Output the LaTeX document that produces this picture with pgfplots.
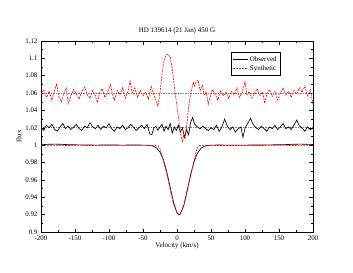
\documentclass[border=0pt]{standalone}
\usepackage{pgfplots}
\pgfplotsset{compat=1.18}
\usepackage{fontspec}
\setmainfont{Liberation Serif}
\begin{document}
\begin{tikzpicture}
\begin{axis}[
  scale only axis, width=272bp, height=191bp,
  xmin=-200, xmax=200, ymin=0.9, ymax=1.12,
  xtick={-200,-150,...,200},
  minor x tick num=1,
  ytick={0.9,0.92,0.94,0.96,0.98,1,1.02,1.04,1.06,1.08,1.1,1.12},
  minor y tick num=1,
  tick align=inside,
  major tick length=3.5bp, minor tick length=2bp,
  tick style={black, line width=0.5pt},
  axis line style={line width=0.6pt},
  /pgf/number format/assume math mode=true,
  yticklabel style={/pgf/number format/fixed, /pgf/number format/precision=2},
  ticklabel style={font=\fontsize{7}{8}\selectfont},
  label style={font=\fontsize{7}{8}\selectfont},
  xlabel={Velocity (km/s)}, ylabel={Flux},
  xlabel style={yshift=4pt}, ylabel style={yshift=-3pt},
  title={HD 139614 (21 Jan) 450 G},
  title style={font=\fontsize{7}{8}\selectfont, yshift=-2pt},
  legend style={at={(0.88,0.94)}, anchor=north east, draw=black, line width=0.5pt,
    font=\fontsize{7}{8}\selectfont, inner sep=1.5pt, row sep=-1pt},
  legend cell align=left,
  legend image code/.code={\draw[#1] (0cm,0cm) -- (0.5cm,0cm);},
]
\addplot[gray, dash pattern=on 1.5pt off 1pt, line width=0.8pt, forget plot] coordinates {(-200,1.06) (200,1.06)};
\addplot[gray, dash pattern=on 1.5pt off 1pt, line width=0.8pt, forget plot] coordinates {(-200,1.02) (200,1.02)};
% observed Stokes I
\addplot[black, line width=0.65pt] coordinates {
(-200,1.0005) (-190,1.001) (-180,1.0012) (-170,1.001) (-160,1.0006) (-140,1.0003) (-120,1.0001) (-100,1.0002) (-80,1.0001) (-60,1.0002) (-50,1.0001)
(-45,1.0000) (-40,0.9997) (-35,0.9989) (-30,0.9968) (-25,0.9921) (-20,0.9833) (-15,0.9693) (-10,0.9515) (-5,0.9338) (0,0.9221) (3,0.9200) (5,0.9209)
(10,0.9308) (15,0.9478) (20,0.9660) (25,0.9809) (30,0.9907) (35,0.9962) (40,0.9986) (45,0.9996) (50,1.0000) (60,1.0002) (80,1.0000) (100,1.0001)
(120,1.0002) (140,1.0004) (160,1.0007) (170,1.0010) (180,1.0012) (190,1.0011) (200,1.0008)};
% synthetic Stokes I
\addplot[red, dash pattern=on 2pt off 1pt, line width=0.6pt] coordinates {
(-200,0.9995) (-180,0.9995) (-160,0.9996) (-140,0.9995) (-120,0.9997) (-100,0.9997) (-80,0.9998) (-60,0.9997) (-40,0.9998) (-35,0.9998) (-30,0.9995) (-27,0.999)
(-25,0.996) (-20,0.982) (-15,0.967) (-10,0.949) (-5,0.932) (0,0.9215) (3,0.9195) (5,0.9205) (10,0.930) (15,0.9465) (20,0.965) (25,0.981) (28,0.992)
(30,0.997) (33,0.9995) (35,0.9998) (50,0.9997) (80,0.9996) (110,0.9997) (140,0.9995) (170,0.9996) (200,0.9995)};
% observed (shifted) noisy profile at 1.02
\addplot[black, line width=0.65pt, forget plot] coordinates {
(-200,1.021) (-196,1.017) (-192,1.023) (-188,1.020) (-184,1.024) (-180,1.018) (-176,1.016) (-172,1.021) (-168,1.025) (-164,1.019)
(-160,1.022) (-156,1.018) (-152,1.021) (-148,1.024) (-144,1.019) (-140,1.017) (-136,1.022) (-132,1.020) (-128,1.026) (-124,1.021)
(-120,1.019) (-116,1.023) (-112,1.018) (-108,1.022) (-104,1.020) (-100,1.025) (-96,1.019) (-92,1.016) (-88,1.021) (-84,1.019)
(-80,1.023) (-76,1.018) (-72,1.020) (-68,1.024) (-64,1.021) (-60,1.017) (-56,1.020) (-52,1.023) (-48,1.019) (-44,1.024)
(-40,1.013) (-37,1.012) (-34,1.020) (-31,1.022) (-28,1.017) (-25,1.021) (-22,1.024) (-19,1.016) (-16,1.022) (-13,1.018)
(-10,1.025) (-7,1.014) (-4,1.021) (-1,1.017) (2,1.023) (5,1.015) (8,1.020) (11,1.009) (14,1.018) (17,1.012)
(20,1.026) (23,1.032) (26,1.024) (30,1.021) (34,1.019) (38,1.022) (42,1.019) (46,1.017) (50,1.020) (54,1.018)
(58,1.023) (62,1.016) (66,1.021) (70,1.030) (74,1.022) (78,1.018) (82,1.021) (86,1.015) (90,1.019) (94,1.021)
(97,1.009) (100,1.020) (104,1.025) (108,1.031) (112,1.024) (116,1.020) (120,1.018) (124,1.022) (128,1.019) (132,1.016)
(136,1.021) (140,1.019) (144,1.023) (148,1.018) (152,1.021) (156,1.025) (160,1.019) (164,1.021) (168,1.018) (172,1.023)
(176,1.029) (180,1.022) (184,1.020) (188,1.016) (192,1.021) (196,1.018) (200,1.020)};
% synthetic-like noisy profile at 1.06
\addplot[red, dash pattern=on 2pt off 1pt, line width=0.6pt, forget plot] coordinates {
(-200,1.058) (-196,1.064) (-192,1.055) (-188,1.062) (-184,1.052) (-180,1.063) (-177,1.071) (-174,1.056) (-170,1.050) (-166,1.061)
(-163,1.066) (-160,1.048) (-156,1.057) (-152,1.064) (-148,1.059) (-144,1.053) (-140,1.062) (-136,1.067) (-132,1.058) (-128,1.054)
(-124,1.063) (-120,1.057) (-117,1.049) (-114,1.060) (-110,1.065) (-106,1.055) (-102,1.061) (-98,1.070) (-95,1.059) (-92,1.052)
(-88,1.063) (-84,1.058) (-80,1.066) (-76,1.054) (-72,1.062) (-69,1.074) (-66,1.060) (-62,1.066) (-58,1.055) (-54,1.063)
(-50,1.057) (-46,1.061) (-42,1.053) (-38,1.068) (-34,1.058) (-31,1.052) (-28,1.045) (-25,1.060) (-22,1.082) (-19,1.098)
(-16,1.104) (-13,1.105) (-10,1.101) (-7,1.088) (-4,1.068) (-1,1.050) (2,1.033) (4,1.020) (6,1.010) (8,1.004)
(10,1.012) (12,1.008) (14,1.020) (16,1.035) (18,1.050) (20,1.058) (22,1.066) (24,1.072) (26,1.068) (28,1.073)
(31,1.075) (34,1.063) (37,1.069) (40,1.058) (43,1.061) (46,1.047) (49,1.056) (52,1.064) (56,1.059) (60,1.052)
(64,1.063) (68,1.057) (72,1.061) (76,1.054) (80,1.062) (84,1.058) (88,1.066) (92,1.055) (96,1.061) (100,1.073)
(103,1.058) (106,1.062) (110,1.054) (114,1.060) (118,1.065) (122,1.057) (126,1.061) (129,1.048) (132,1.059) (136,1.064)
(140,1.056) (144,1.062) (148,1.052) (152,1.060) (156,1.066) (160,1.058) (164,1.062) (168,1.055) (172,1.063) (176,1.059)
(180,1.066) (184,1.061) (188,1.068) (192,1.057) (196,1.064) (200,1.047)};
\legend{Observed, Synthetic}
\end{axis}
\path (-41bp,-41bp) rectangle (312bp,232bp);
\end{tikzpicture}
\end{document}
